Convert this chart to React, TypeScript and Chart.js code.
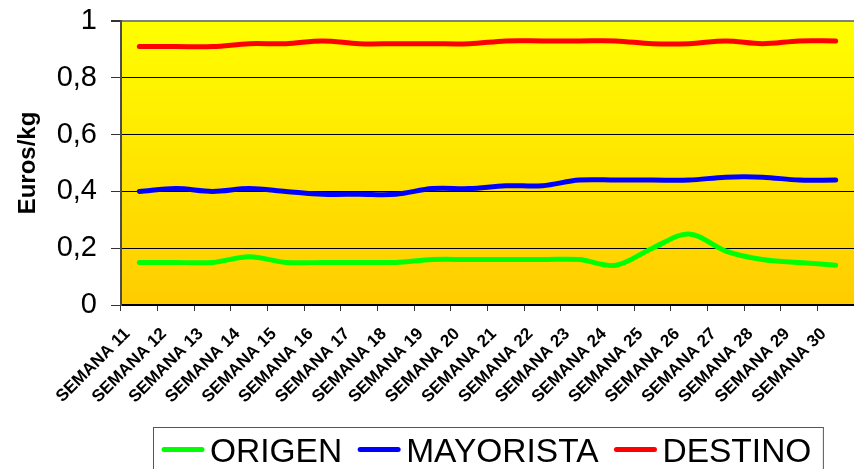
import React, { useEffect, useRef } from "react";
import { Chart, registerables } from "chart.js";

Chart.register(...registerables);

const categories = [
  "SEMANA 11", "SEMANA 12", "SEMANA 13", "SEMANA 14", "SEMANA 15",
  "SEMANA 16", "SEMANA 17", "SEMANA 18", "SEMANA 19", "SEMANA 20",
  "SEMANA 21", "SEMANA 22", "SEMANA 23", "SEMANA 24", "SEMANA 25",
  "SEMANA 26", "SEMANA 27", "SEMANA 28", "SEMANA 29", "SEMANA 30",
];

const origen = [0.15, 0.15, 0.15, 0.17, 0.15, 0.15, 0.15, 0.15, 0.16, 0.16, 0.16, 0.16, 0.16, 0.14, 0.2, 0.25, 0.19, 0.16, 0.15, 0.14];
const mayorista = [0.4, 0.41, 0.4, 0.41, 0.4, 0.39, 0.39, 0.39, 0.41, 0.41, 0.42, 0.42, 0.44, 0.44, 0.44, 0.44, 0.45, 0.45, 0.44, 0.44];
const destino = [0.91, 0.91, 0.91, 0.92, 0.92, 0.93, 0.92, 0.92, 0.92, 0.92, 0.93, 0.93, 0.93, 0.93, 0.92, 0.92, 0.93, 0.92, 0.93, 0.93];

const seriesNames = ["ORIGEN", "MAYORISTA", "DESTINO"];
const seriesColors = ["#00FF00", "#0000FF", "#FF0000"];

const FONT = "'Liberation Sans', Arial, sans-serif";

const bgPlugin = {
  id: "bgGradient",
  beforeDraw(chart: any) {
    const { ctx, chartArea } = chart;
    if (!chartArea) return;
    const g = ctx.createLinearGradient(0, chartArea.top, 0, chartArea.bottom);
    g.addColorStop(0, "#FFFF00");
    g.addColorStop(1, "#FFCC00");
    ctx.save();
    ctx.fillStyle = g;
    ctx.fillRect(chartArea.left, chartArea.top, chartArea.right - chartArea.left, chartArea.bottom - chartArea.top);
    ctx.restore();
  },
};

const legendPlugin = {
  id: "boxLegend",
  afterDraw(chart: any) {
    const { ctx } = chart;
    ctx.save();
    ctx.font = `33.5px ${FONT}`;
    const boxLeft = 153.5;
    const boxTop = 427.5;
    let x = 162;
    const lineY = 449.5;
    const baseY = 461.5;
    chart.data.datasets.forEach((ds: any) => {
      ctx.strokeStyle = ds.borderColor;
      ctx.lineWidth = 5;
      ctx.lineCap = "round";
      ctx.beginPath();
      ctx.moveTo(x + 2, lineY);
      ctx.lineTo(x + 40, lineY);
      ctx.stroke();
      ctx.fillStyle = "#000";
      ctx.textBaseline = "alphabetic";
      ctx.textAlign = "left";
      const tx = x + 48;
      ctx.fillText(ds.label, tx, baseY);
      x = tx + ctx.measureText(ds.label).width + 16;
    });
    const boxRight = x - 16 + 12;
    ctx.strokeStyle = "#555";
    ctx.lineWidth = 1;
    ctx.strokeRect(boxLeft, boxTop, boxRight - boxLeft, 80);
    ctx.restore();
  },
};

export default function App() {
  const ref = useRef<HTMLCanvasElement | null>(null);
  useEffect(() => {
    document.body.style.margin = "0";
    const canvas = ref.current!;
    const datasets = [origen, mayorista, destino].map((d, i) => ({
      label: seriesNames[i],
      data: d,
      borderColor: seriesColors[i],
      backgroundColor: seriesColors[i],
      borderWidth: 5,
      pointRadius: 0,
      tension: 0.35,
      borderCapStyle: "round" as const,
      borderJoinStyle: "round" as const,
    }));
    const chart = new Chart(canvas, {
      type: "line",
      data: { labels: categories, datasets },
      options: {
        responsive: false,
        animation: false,
        layout: { padding: { top: 21, left: 0, right: 0, bottom: 0 } },
        plugins: { legend: { display: false }, tooltip: { enabled: false } },
        scales: {
          x: {
            offset: true,
            grid: {
              offset: true,
              drawOnChartArea: false,
              tickLength: 6,
              tickColor: "#333",
              tickWidth: 1,
            },
            border: { color: "#000", width: 1.5 },
            ticks: {
              autoSkip: false,
              maxRotation: 45,
              minRotation: 45,
              padding: 13,
              labelOffset: -12,
              color: "#000",
              font: { family: FONT, size: 17, weight: "bold" },
            },
            afterFit(scale: any) {
              scale.height = 164;
              scale.paddingLeft = 0;
              scale.paddingRight = 0;
            },
          },
          y: {
            min: 0,
            max: 1,
            ticks: {
              stepSize: 0.2,
              padding: 14,
              color: "#000",
              font: { family: FONT, size: 29 },
              callback: (v: any) => String(Math.round(Number(v) * 10) / 10).replace(".", ","),
            },
            grid: {
              color: (c: any) => (c.tick && Math.abs(c.tick.value - 1) < 1e-6 ? "#808080" : "#000"),
              lineWidth: (c: any) => (c.tick && Math.abs(c.tick.value - 1) < 1e-6 ? 2 : 1),
              tickColor: "#333",
              tickLength: 10,
            },
            border: { color: "#4d4d4d", width: 2 },
            title: {
              display: true,
              text: "Euros/kg",
              color: "#000",
              font: { family: FONT, size: 24, weight: "bold" },
              padding: { top: 14, bottom: 0 },
            },
            afterFit(scale: any) {
              scale.width = 121;
              scale.paddingTop = 0;
              scale.paddingBottom = 0;
            },
          },
        },
      },
      plugins: [bgPlugin, legendPlugin],
    });
    return () => chart.destroy();
  }, []);
  return (
    <div style={{ width: 854, height: 469, background: "#fff" }}>
      <canvas ref={ref} width={854} height={469} style={{ display: "block" }} />
    </div>
  );
}
